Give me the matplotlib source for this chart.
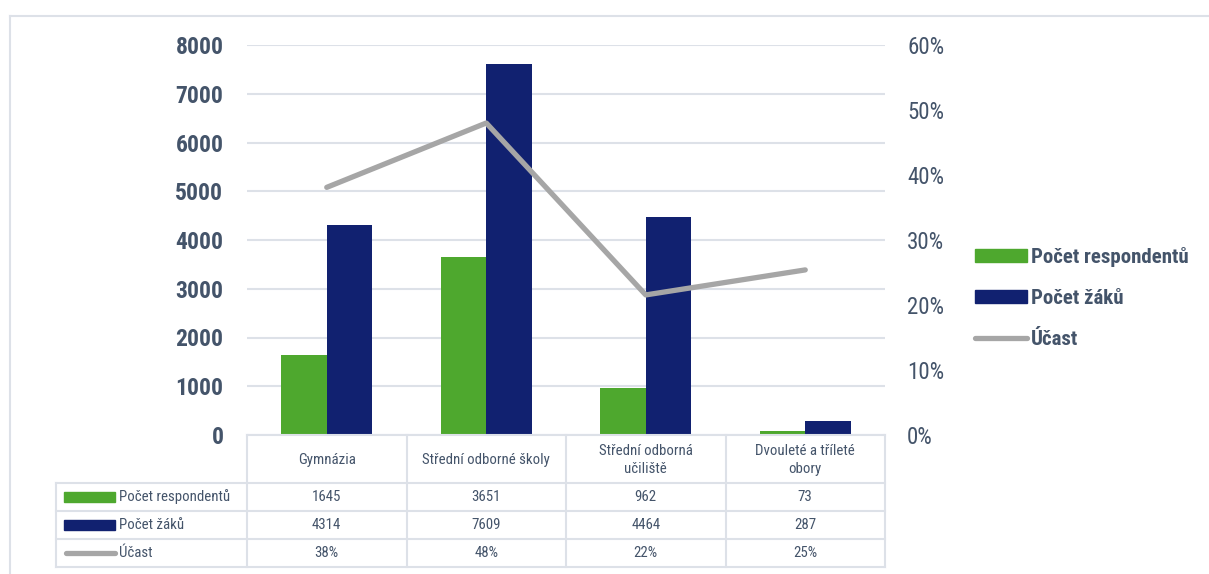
import numpy as np
import matplotlib
matplotlib.use('Agg')
import matplotlib.pyplot as plt
from matplotlib.lines import Line2D
from matplotlib.patches import Patch, Rectangle

categories = ['Gymnázia', 'Střední odborné školy', 'Střední odborná\nučiliště', 'Dvouleté a tříleté\nobory']
respondents = [1645, 3651, 962, 73]
students = [4314, 7609, 4464, 287]
participation = [0.381, 0.480, 0.2155, 0.254]
series_names = ['Počet respondentů', 'Počet žáků', 'Účast']

green = '#4ea82e'
navy = '#112170'
grey = '#a6a6a6'
txt = '#44546a'
gridc = '#dde1e8'

plt.rcParams['font.family'] = ['Roboto Condensed', 'Liberation Sans Narrow', 'Roboto', 'DejaVu Sans']

W, H = 1209, 574
fig = plt.figure(figsize=(W / 100, H / 100), dpi=100)
fig.patch.set_facecolor('white')

# outer frame (only top and left edges visible)
fig.add_artist(Line2D([10 / W, 1.0], [1 - 16 / H, 1 - 16 / H], color=gridc, lw=1.5))
fig.add_artist(Line2D([10 / W, 10 / W], [1 - 16 / H, 0.0], color=gridc, lw=1.5))

left, right, top, bottom = 247, 885, 45, 435
ax = fig.add_axes([left / W, 1 - bottom / H, (right - left) / W, (bottom - top) / H])
x = np.arange(len(categories))
bw = 0.284
ax.bar(x - bw / 2, respondents, bw, color=green, zorder=2)
ax.bar(x + bw / 2, students, bw, color=navy, zorder=2)
ax.set_xlim(-0.5, len(categories) - 0.5)
ax.set_ylim(0, 8000)
ax.set_yticks(np.arange(0, 8001, 1000))
ax.yaxis.grid(True, color=gridc, lw=1.5, zorder=0)
ax.set_axisbelow(True)
for s in ax.spines.values():
    s.set_visible(False)
ax.set_xticks([])
ax.tick_params(axis='y', length=0, pad=17, labelsize=17, labelcolor=txt)
for lb in ax.get_yticklabels():
    lb.set_fontweight('bold')

ax2 = ax.twinx()
ax2.plot(x, participation, color=grey, lw=3.8, solid_capstyle='round', zorder=3)
ax2.set_ylim(0, 0.6)
ax2.set_yticks(np.arange(0, 0.61, 0.1))
ax2.set_yticklabels([f'{int(round(v * 100))}%' for v in np.arange(0, 0.61, 0.1)])
for s in ax2.spines.values():
    s.set_visible(False)
ax2.tick_params(axis='y', length=0, pad=16, labelsize=16.5, labelcolor=txt)

# data table under the plot
tr = ax.get_xaxis_transform()
ph = bottom - top


def ay(p):
    return (bottom - p) / ph


row_edges = [435, 483, 511, 539, 567]
lab_left = -1.70
lc = dict(color=gridc, lw=1.5, transform=tr, clip_on=False)
# header row
ax.add_line(Line2D([-0.5, len(categories) - 0.5], [ay(row_edges[0])] * 2, **lc))
for ye in row_edges[1:]:
    ax.add_line(Line2D([lab_left, len(categories) - 0.5], [ay(ye)] * 2, **lc))
for xe in np.arange(len(categories) + 1) - 0.5:
    ax.add_line(Line2D([xe, xe], [ay(row_edges[0]), ay(row_edges[-1])], **lc))
ax.add_line(Line2D([lab_left, lab_left], [ay(row_edges[1]), ay(row_edges[-1])], **lc))

fs = 10.7
for i, c in enumerate(categories):
    ax.text(i, ay((row_edges[0] + row_edges[1]) / 2 + 1), c, transform=tr, ha='center', va='center',
            fontsize=fs, color=txt, linespacing=1.3, clip_on=False)

rows = [[str(v) for v in respondents],
        [str(v) for v in students],
        [f'{int(round(v * 100))}%' for v in participation]]
for r, vals in enumerate(rows):
    yc = ay((row_edges[r + 1] + row_edges[r + 2]) / 2)
    for i, v in enumerate(vals):
        ax.text(i, yc, v, transform=tr, ha='center', va='center', fontsize=fs, color=txt, clip_on=False)
    ax.text(-1.30, yc, series_names[r], transform=tr, ha='left', va='center', fontsize=fs,
            color=txt, clip_on=False)
    if r < 2:
        ax.add_patch(Rectangle((-1.645, yc - 0.012), 0.32, 0.024, transform=tr,
                               color=[green, navy][r], clip_on=False))
    else:
        ax.add_line(Line2D([-1.635, -1.33], [yc, yc], color=grey, lw=3.8, solid_capstyle='round',
                           transform=tr, clip_on=False))

handles = [Patch(color=green), Patch(color=navy),
           Line2D([0], [0], color=grey, lw=3.8, solid_capstyle='round')]
leg = fig.legend(handles, series_names, loc='center left', bbox_to_anchor=(975 / W, 1 - 298 / H),
                 frameon=False, fontsize=15, handlelength=2.5, handleheight=0.55, handletextpad=0.2,
                 labelspacing=1.05, borderpad=0, borderaxespad=0)
for t in leg.get_texts():
    t.set_color(txt)
    t.set_fontweight('bold')

fig.savefig('out.png', dpi=100)
